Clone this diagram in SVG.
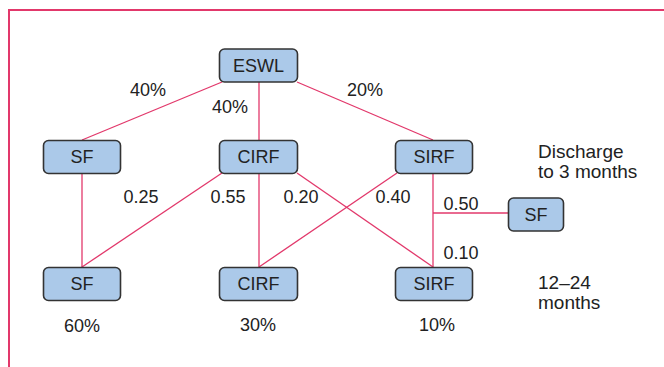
<svg xmlns="http://www.w3.org/2000/svg" width="664" height="367" viewBox="0 0 664 367">
<style>
.frame{fill:none;stroke:#e2386b;stroke-width:2}
.con line{stroke:#e2386b;stroke-width:1.3}
.box{fill:#abc9e9;stroke:#333;stroke-width:1.6}
text{font-family:"Liberation Sans",Arial,sans-serif;font-size:18px;fill:#222}
.c{text-anchor:middle}
.side{font-size:19px}
</style>
<rect width="664" height="367" fill="#fff"/>
<path class="frame" d="M9,367 V10 H664"/>
<g id="connectors" class="con">
<line x1="222" y1="82" x2="82" y2="140"/>
<line x1="259" y1="82" x2="259" y2="140"/>
<line x1="297" y1="82" x2="433" y2="140"/>
<line x1="82" y1="174" x2="82" y2="267"/>
<line x1="222" y1="173" x2="82" y2="267"/>
<line x1="259" y1="174" x2="259" y2="267"/>
<line x1="297" y1="173" x2="433" y2="267"/>
<line x1="397" y1="173" x2="259" y2="267"/>
<line x1="433" y1="174" x2="433" y2="267"/>
<line x1="433" y1="213" x2="508" y2="213"/>
</g>
<g id="eswl"><rect class="box" x="219.5" y="49" width="78" height="33" rx="5"/><text class="c" x="258.5" y="72">ESWL</text></g>
<g id="sf1"><rect class="box" x="43.5" y="140.5" width="77" height="33" rx="5"/><text class="c" x="82" y="163">SF</text></g>
<g id="cirf1"><rect class="box" x="219.5" y="140.5" width="78" height="33" rx="5"/><text class="c" x="258.5" y="163">CIRF</text></g>
<g id="sirf1"><rect class="box" x="395.5" y="140.5" width="77" height="33" rx="5"/><text class="c" x="434" y="163">SIRF</text></g>
<g id="sf3"><rect class="box" x="508.5" y="198" width="55" height="33" rx="5"/><text class="c" x="536" y="221">SF</text></g>
<g id="sf2"><rect class="box" x="43.5" y="267.5" width="77" height="33" rx="5"/><text class="c" x="82" y="290">SF</text></g>
<g id="cirf2"><rect class="box" x="219.5" y="267.5" width="78" height="33" rx="5"/><text class="c" x="258.5" y="290">CIRF</text></g>
<g id="sirf2"><rect class="box" x="395.5" y="267.5" width="77" height="33" rx="5"/><text class="c" x="434" y="290">SIRF</text></g>
<g id="labels">
<text class="c" x="148" y="96">40%</text>
<text class="c" x="230" y="113">40%</text>
<text class="c" x="365" y="96">20%</text>
<text class="c" x="141" y="203">0.25</text>
<text class="c" x="228" y="203">0.55</text>
<text class="c" x="301" y="203">0.20</text>
<text class="c" x="393" y="203">0.40</text>
<text class="c" x="461" y="210">0.50</text>
<text class="c" x="461" y="259">0.10</text>
<text class="c" x="82" y="332">60%</text>
<text class="c" x="258" y="331">30%</text>
<text class="c" x="437" y="331">10%</text>
<text class="side" x="538" y="158">Discharge</text>
<text class="side" x="538" y="178">to 3 months</text>
<text class="side" x="538" y="289">12–24</text>
<text class="side" x="538" y="309">months</text>
</g>
</svg>
